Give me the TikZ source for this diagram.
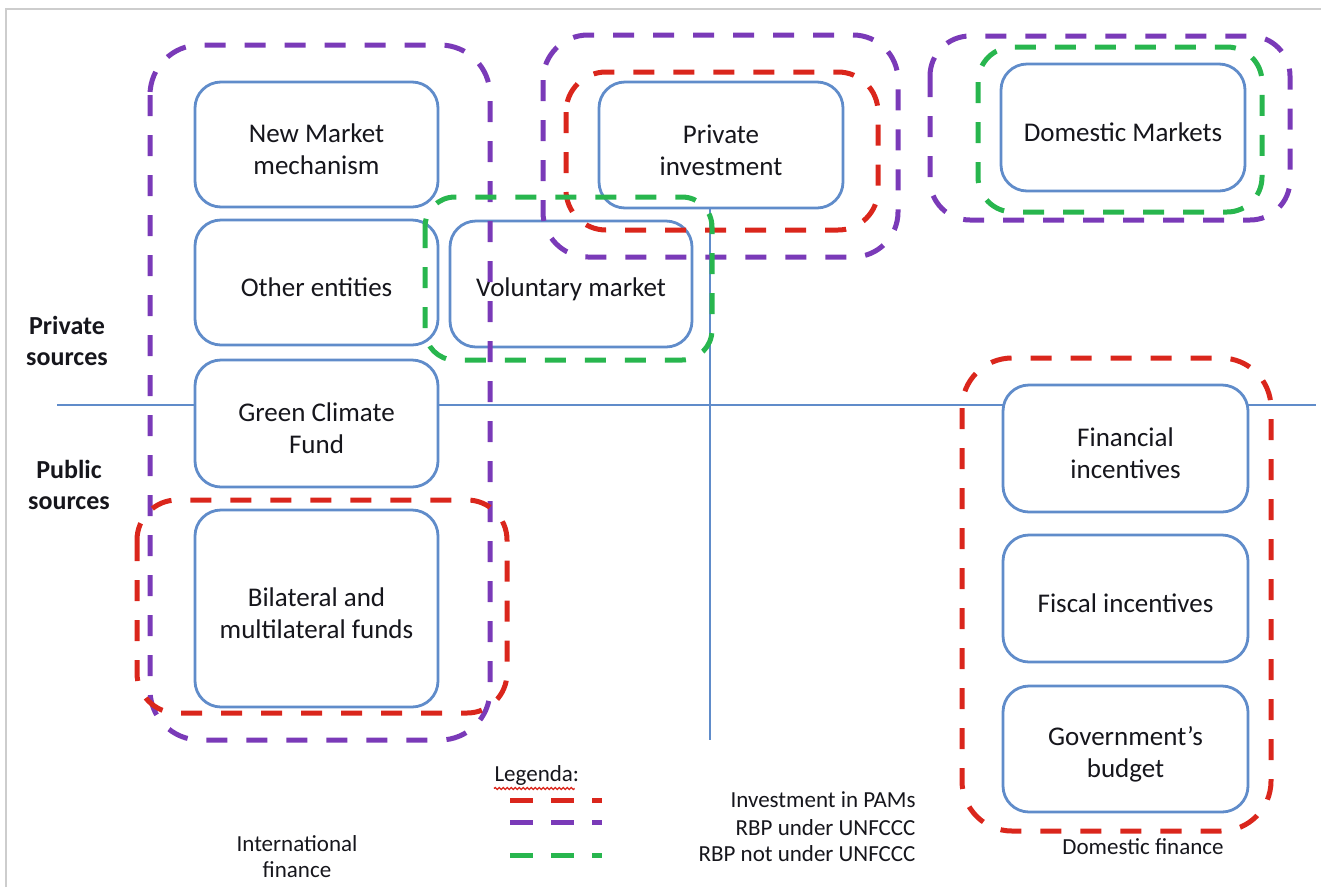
\documentclass[tikz,border=0pt]{standalone}
\usepackage{fontspec}
\setmainfont{Carlito}
\usetikzlibrary{decorations.pathmorphing}
\definecolor{boxblue}{RGB}{96,140,202}
\definecolor{grpred}{RGB}{218,38,28}
\definecolor{grppurple}{RGB}{122,58,184}
\definecolor{grpgreen}{RGB}{40,182,78}
\definecolor{frame}{RGB}{205,205,205}
\definecolor{ink}{RGB}{22,22,28}
\tikzset{
  fundbox/.style={draw=boxblue, line width=2.8pt, fill=white, rounded corners=26pt, inner sep=0pt},
  fundtext/.style={align=center, text=ink, yshift=-5pt, font=\fontsize{27}{32}\selectfont},
  axisline/.style={draw=boxblue, line width=2.8pt},
  grp/.style={line width=5pt, dash pattern=on 21pt off 19pt},
  grpR/.style={grp, draw=grpred},
  grpP/.style={grp, draw=grppurple},
  grpG/.style={grp, draw=grpgreen},
  legdash/.style={line width=5pt, dash pattern=on 23pt off 18pt},
  sidelabel/.style={align=center, text=ink, font=\bfseries\fontsize{26}{31}\selectfont},
  smalllabel/.style={align=center, text=ink, font=\fontsize{23}{26}\selectfont},
}
\begin{document}
\begin{tikzpicture}[x=1pt,y=-1pt]
\useasboundingbox (0,0) rectangle (1321,887);
% page frame
\draw[frame, line width=2pt] (6,887) -- (6,9) -- (1321,9);

% axes: private / public split and international / domestic split
\coordinate (hl) at (57,405);
\coordinate (hr) at (1316,405);
\draw[axisline] (hl) -- (hr);

% funding boxes
\node[fundbox, minimum width=243pt, minimum height=125pt,
  label={[fundtext]center:New Market\\mechanism}] (nmm) at (316.5,144.5) {};
\node[fundbox, minimum width=243pt, minimum height=125pt,
  label={[fundtext]center:Other entities}] (oe) at (316.5,282.5) {};
\node[fundbox, minimum width=243pt, minimum height=127pt,
  label={[fundtext]center:Green Climate\\Fund}] (gcf) at (316.5,423.5) {};
\node[fundbox, minimum width=243pt, minimum height=197pt,
  label={[fundtext]center:Bilateral and\\multilateral funds}] (bmf) at (316.5,608.5) {};
\node[fundbox, minimum width=242pt, minimum height=126pt,
  label={[fundtext]center:Voluntary market}] (vm) at (571,284) {};
\node[fundbox, minimum width=244pt, minimum height=126pt,
  label={[fundtext]center:Private\\investment}] (pi) at (721,145) {};
\node[fundbox, minimum width=244pt, minimum height=127pt,
  label={[fundtext]center:Domestic Markets}] (dm) at (1123,127.5) {};
\node[fundbox, minimum width=245pt, minimum height=127pt,
  label={[fundtext]center:Financial\\incentives}] (fi) at (1125.5,448.5) {};
\node[fundbox, minimum width=245pt, minimum height=127pt,
  label={[fundtext]center:Fiscal incentives}] (fsi) at (1125.5,598.5) {};
\node[fundbox, minimum width=245pt, minimum height=126pt,
  label={[fundtext]center:Government’s\\budget}] (gb) at (1125.5,749) {};

% vertical split below private investment
\coordinate (vb) at (710,740);
\draw[axisline] (vb |- pi.south) -- (vb);

% groupings
\draw[grpP, rounded corners=50pt] (150,45) rectangle (490,740);
\draw[grpP, rounded corners=45pt] (543,35) rectangle (898,257);
\draw[grpR, rounded corners=40pt] (566,72) rectangle (878,230);
\draw[grpP, rounded corners=40pt] (930,36) rectangle (1290,220);
\draw[grpG, rounded corners=35pt] (978,47) rectangle (1262,212);
\draw[grpG, rounded corners=30pt] (425,197) rectangle (712,360);
\draw[grpR, rounded corners=40pt] (137,500) rectangle (507,713);
\draw[grpR, rounded corners=50pt] (962,358) rectangle (1271,831);

% side labels
\node[sidelabel] (priv) at (67,341) {Private\\sources};
\node[sidelabel] (pub)  at (69,485) {Public\\sources};
\node[smalllabel] (intl) at (297,857) {International\\finance};
\node[smalllabel] (dom)  at (1143,847) {Domestic finance};

% legend
\node[smalllabel, anchor=west] (leg) at (491,775) {Legenda:};
\draw[grpred, line width=1.3pt, decorate, decoration={snake, amplitude=1pt, segment length=4pt}]
  ([xshift=3pt,yshift=0pt]leg.south west) -- ([xshift=-8pt,yshift=0pt]leg.south east);
\coordinate (lr1) at (510,800);
\coordinate (lr2) at (510,822);
\coordinate (lr3) at (510,855);
\draw[legdash, draw=grpred] (lr1) -- ++(92,0);
\draw[legdash, draw=grppurple] (lr2) -- ++(92,0);
\draw[legdash, draw=grpgreen] (lr3) -- ++(92,0);
\node[smalllabel, anchor=east] (l1) at (919,800) {Investment in PAMs};
\node[smalllabel, anchor=east] (l2) at (919,828) {RBP under UNFCCC};
\node[smalllabel, anchor=east] (l3) at (919,854) {RBP not under UNFCCC};
\end{tikzpicture}
\end{document}
